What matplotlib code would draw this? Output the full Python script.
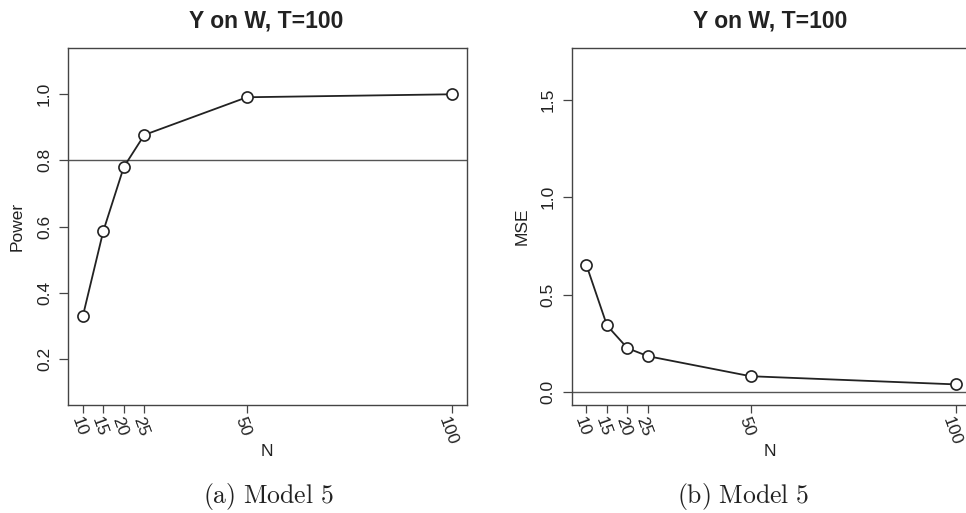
import matplotlib
matplotlib.use("Agg")
import matplotlib.pyplot as plt
import matplotlib.transforms as mtrans

plt.rcParams['font.family'] = ['Liberation Sans', 'DejaVu Sans']
plt.rcParams['mathtext.fontset'] = 'cm'

# datos
n_vals = [10, 15, 20, 25, 50, 100]
power = [0.328, 0.586, 0.780, 0.877, 0.991, 1.000]
mse = [0.651, 0.341, 0.224, 0.183, 0.080, 0.038]
tick_labels = ['10', '15', '20', '25', '50', '100']
titulo = 'Y on W, T=100'

W, H = 966, 513
fig = plt.figure(figsize=(W / 100, H / 100), dpi=100)

def px(x, y):
    return x / W, 1 - y / H

oscuro = '#222222'
borde = '#444444'

def panel(left, yvals, ylim, yticks, hline, ylabel, ylabel_x, caption, cap_x):
    ax = fig.add_axes([left / W, 1 - 405 / H, 398.8 / W, 357 / H])
    ax.plot(n_vals, yvals, '-o', color=oscuro, lw=1.3, ms=8,
            mfc='white', mec=oscuro, mew=1.2, zorder=3)
    ax.axhline(hline, color='#555555', lw=1.0, zorder=2)
    ax.set_xlim(6.4, 103.6)
    ax.set_ylim(*ylim)
    ax.set_xticks(n_vals)
    ax.set_xticklabels([])
    # etiquetas del eje x a mano, giradas y corridas un poco a la izquierda
    trans = ax.get_xaxis_transform() + mtrans.ScaledTranslation(
        -4 / 100, -10 / 100, fig.dpi_scale_trans)
    for n, lab in zip(n_vals, tick_labels):
        ax.text(n, 0, lab, transform=trans, rotation=-70, ha='center',
                va='top', fontsize=12.5, color=oscuro)
    ax.set_yticks(yticks)
    ax.set_yticklabels([f'{t:.1f}' for t in yticks], rotation=90,
                       va='center', fontsize=12.5, color=oscuro)
    ax.tick_params(axis='y', length=6.5, width=0.9, pad=5, color=borde)
    ax.tick_params(axis='x', length=5.5, width=0.9, pad=4, color=borde)
    for s in ax.spines.values():
        s.set_color(borde)
        s.set_linewidth(1.0)
    cx = left + 398.8 / 2
    fig.text(*px(cx - 1, 21), titulo, ha='center', va='center',
             fontsize=16.5, fontweight='bold', color=oscuro)
    fig.text(*px(cx - 1, 452), 'N', ha='center', va='center',
             fontsize=12.5, color=oscuro)
    fig.text(*px(ylabel_x, 226.5), ylabel, ha='center', va='center',
             rotation=90, fontsize=12.5, color=oscuro)
    fig.text(*px(cap_x, 497), caption, ha='center', va='center',
             fontsize=18.5, color=oscuro)
    return ax

panel(68, power, (0.06, 1.14), [0.2, 0.4, 0.6, 0.8, 1.0], 0.8,
      'Power', 17, r'$\mathrm{(a)\ Model\ 5}$', 268)
panel(571.7, mse, (-0.068, 1.768), [0.0, 0.5, 1.0, 1.5], 0.0,
      'MSE', 521.7, r'$\mathrm{(b)\ Model\ 5}$', 743)

fig.savefig('out.png', dpi=100)
